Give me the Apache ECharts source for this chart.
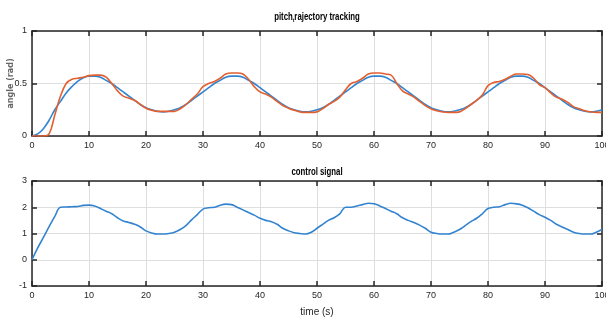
<!DOCTYPE html>
<html><head><meta charset="utf-8">
<script src="https://cdn.jsdelivr.net/npm/echarts@6/dist/echarts.min.js"></script>
<style>html,body{margin:0;padding:0;background:#fff}#c{width:606px;height:320px}</style>
</head><body><div id="c"></div>
<script>
const time = [0,1,2,3,4,5,6,7,8,9,10,11,12,13,14,15,16,17,18,19,20,21,22,23,24,25,26,27,28,29,30,31,32,33,34,35,36,37,38,39,40,41,42,43,44,45,46,47,48,49,50,51,52,53,54,55,56,57,58,59,60,61,62,63,64,65,66,67,68,69,70,71,72,73,74,75,76,77,78,79,80,81,82,83,84,85,86,87,88,89,90,91,92,93,94,95,96,97,98,99,100];
const refAngle = [0,0.02,0.07,0.15,0.25,0.33,0.41,0.47,0.52,0.555,0.57,0.57,0.56,0.53,0.5,0.46,0.42,0.38,0.34,0.3,0.27,0.25,0.235,0.23,0.235,0.25,0.27,0.3,0.34,0.38,0.42,0.46,0.5,0.53,0.56,0.57,0.57,0.56,0.53,0.5,0.46,0.42,0.38,0.34,0.3,0.27,0.25,0.235,0.23,0.235,0.25,0.27,0.3,0.34,0.38,0.42,0.46,0.5,0.53,0.56,0.57,0.57,0.56,0.53,0.5,0.46,0.42,0.38,0.34,0.3,0.27,0.25,0.235,0.23,0.235,0.25,0.27,0.3,0.34,0.38,0.42,0.46,0.5,0.53,0.56,0.57,0.57,0.56,0.53,0.5,0.46,0.42,0.38,0.34,0.3,0.27,0.25,0.235,0.23,0.235,0.25];
const actAngle = [0,0,0,0.02,0.2,0.38,0.5,0.54,0.55,0.56,0.575,0.58,0.58,0.56,0.5,0.43,0.38,0.36,0.34,0.3,0.265,0.245,0.235,0.235,0.235,0.235,0.26,0.3,0.35,0.4,0.47,0.5,0.52,0.55,0.59,0.6,0.6,0.59,0.54,0.47,0.42,0.4,0.37,0.33,0.29,0.265,0.245,0.23,0.225,0.225,0.23,0.26,0.3,0.33,0.37,0.44,0.5,0.52,0.55,0.59,0.6,0.6,0.59,0.58,0.5,0.43,0.4,0.37,0.33,0.29,0.26,0.24,0.23,0.225,0.225,0.23,0.26,0.3,0.34,0.39,0.48,0.51,0.52,0.54,0.57,0.59,0.59,0.585,0.55,0.49,0.46,0.41,0.37,0.35,0.32,0.28,0.26,0.24,0.23,0.225,0.225];
const control = [0,0.45,0.85,1.26,1.65,2.0,2.01,2.02,2.03,2.07,2.08,2.05,1.95,1.85,1.75,1.6,1.48,1.42,1.35,1.25,1.1,1.02,0.98,0.98,1.0,1.05,1.15,1.3,1.52,1.72,1.93,1.98,2.0,2.08,2.12,2.1,2.0,1.9,1.8,1.7,1.58,1.5,1.45,1.35,1.2,1.1,1.03,1.0,0.98,1.05,1.2,1.35,1.5,1.6,1.75,2.0,2.0,2.05,2.1,2.15,2.13,2.05,1.95,1.85,1.75,1.6,1.5,1.42,1.32,1.2,1.05,1.0,0.98,0.98,1.05,1.15,1.3,1.45,1.58,1.75,1.95,2.0,2.02,2.1,2.15,2.13,2.08,1.98,1.85,1.72,1.62,1.5,1.35,1.25,1.15,1.05,1.0,0.98,0.98,1.05,1.15];
const xTicks = [0,10,20,30,40,50,60,70,80,90,100];
const topTitle = 'pitch{s|t}rajectory tracking';
const bottomTitle = 'control signal';
const yName = 'angle (rad)';
const xName = 'time (s)';

const pair = a => time.map((t,i)=>[t,a[i]]);
const F = "'Liberation Sans',Arial,sans-serif";
const frame = {show:true, onZero:false, lineStyle:{color:'#262626', width:1.5}};
const tick = {show:true, inside:true, length:5, lineStyle:{color:'#262626', width:1.5}};
const lbl = {color:'#262626', fontSize:9, fontFamily:F, margin:5};
function xa(g, pos){
  const bottom = pos==='bottom';
  return {type:'value', gridIndex:g, position:pos, min:0, max:100, interval:10,
    axisLine:frame, axisTick:tick,
    axisLabel: bottom ? Object.assign({}, lbl, {formatter:v=>xTicks.includes(v)?String(v):''}) : {show:false},
    splitLine:{show:bottom, lineStyle:{color:'#dedede', width:1}},
    name: (bottom && g===1) ? xName : '', nameLocation:'middle', nameGap:21, nameMoveOverlap:false,
    nameTextStyle:{color:'#262626', fontSize:10, fontFamily:F}};
}
function ya(g, pos, min, max, interval, fmt){
  const left = pos==='left';
  return {type:'value', gridIndex:g, position:pos, min, max, interval,
    axisLine:frame, axisTick:tick,
    axisLabel: left ? Object.assign({}, lbl, {formatter:fmt}) : {show:false},
    splitLine:{show:left, lineStyle:{color:'#dedede', width:1}},
    name: (left && g===0) ? yName : '', nameLocation:'middle', nameGap:17, nameRotate:90, nameMoveOverlap:false,
    nameTextStyle:{color:'#666666', fontSize:8, fontWeight:'bold', fontFamily:"'DejaVu Sans',sans-serif"}};
}
function titleText(text, y){
  return {type:'text', x:317, y:y, scaleX:0.78, z:10,
    style:{text:text, fill:'#000', fontSize:10, fontWeight:'bold', fontFamily:F, align:'center', verticalAlign:'middle',
      rich:{s:{fontSize:6, fontWeight:'bold', fill:'#000', fontFamily:F, padding:[6,0,0,0]}}}};
}
const chart = echarts.init(document.getElementById('c'), null, {renderer:'canvas'});
chart.setOption({
  animation:false,
  backgroundColor:'#ffffff',
  graphic:[titleText(topTitle, 17), titleText(bottomTitle, 172)],
  grid:[
    {left:32, top:31, width:570, height:105, outerBoundsMode:'none', containLabel:false},
    {left:32, top:181, width:570, height:105, outerBoundsMode:'none', containLabel:false}
  ],
  xAxis:[xa(0,'bottom'), xa(0,'top'), xa(1,'bottom'), xa(1,'top')],
  yAxis:[
    ya(0,'left',0,1,0.5, v=>String(v)),
    ya(0,'right',0,1,0.5),
    ya(1,'left',-1,3,1, v=>String(v)),
    ya(1,'right',-1,3,1)
  ],
  series:[
    {type:'line', xAxisIndex:0, yAxisIndex:0, data:pair(refAngle), showSymbol:false, smooth:0.4,
     lineStyle:{color:'#3384D0', width:1.6}, z:3},
    {type:'line', xAxisIndex:0, yAxisIndex:0, data:pair(actAngle), showSymbol:false, smooth:0.4,
     lineStyle:{color:'#E2602F', width:1.6}, z:4},
    {type:'line', xAxisIndex:2, yAxisIndex:2, data:pair(control), showSymbol:false, smooth:0.4,
     lineStyle:{color:'#3384D0', width:1.6}, z:3}
  ]
});
</script></body></html>
